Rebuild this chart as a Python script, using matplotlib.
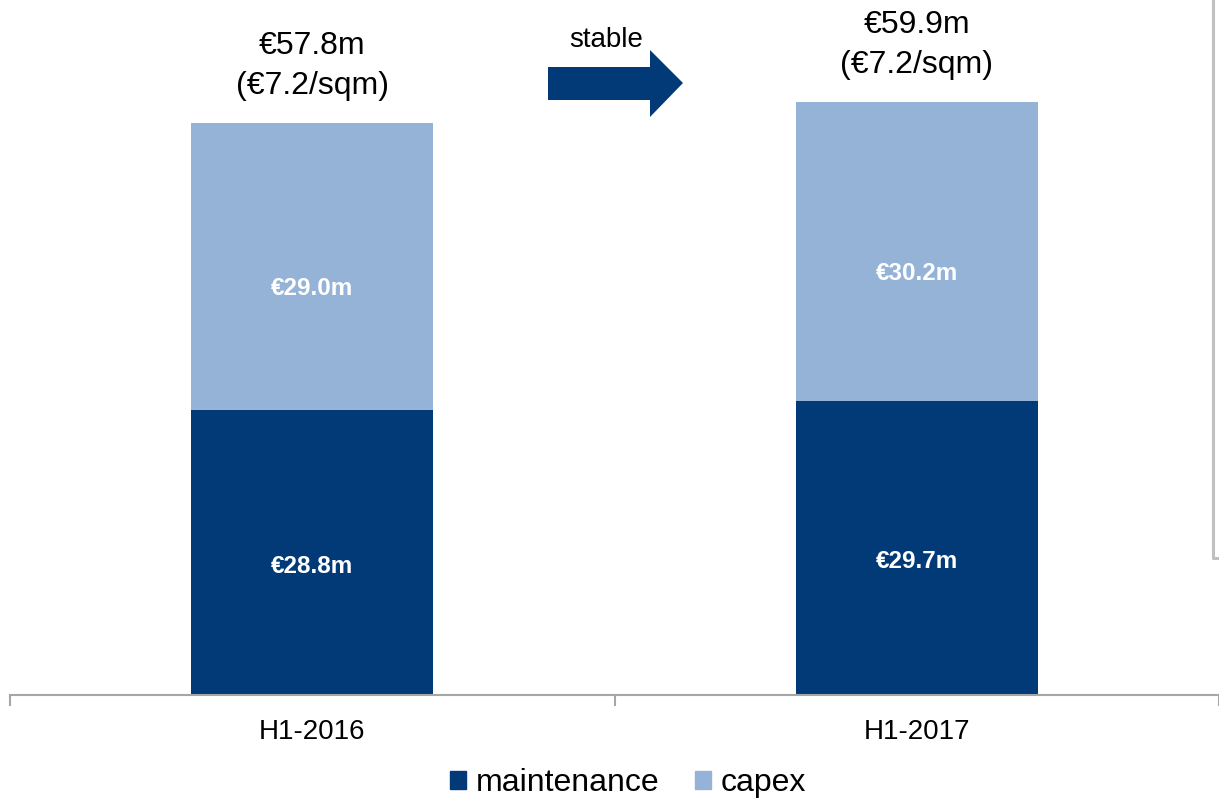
import matplotlib
matplotlib.use('Agg')
import matplotlib.pyplot as plt
from matplotlib.patches import Polygon, Patch
from matplotlib.lines import Line2D

plt.rcParams['font.family'] = ['Liberation Sans', 'DejaVu Sans']

# 数据
periods = ['H1-2016', 'H1-2017']
maintenance = [28.8, 29.7]
capex = [29.0, 30.2]
totals = ['€57.8m', '€59.9m']
per_sqm = ['(€7.2/sqm)', '(€7.2/sqm)']

dark = '#023A78'
light = '#95B3D7'
grey = '#A6A6A6'

W, H = 1219, 800
fig = plt.figure(figsize=(W / 100, H / 100), dpi=100)
ax = fig.add_axes([10 / W, (H - 695) / H, 1209 / W, 695 / H])

x = list(range(len(periods)))
ax.bar(x, maintenance, width=0.4, color=dark, label='maintenance')
ax.bar(x, capex, width=0.4, bottom=maintenance, color=light, label='capex')

ax.set_xlim(-0.5, 1.479)
ax.set_ylim(0, 70.2)

# 柱内标签
for i in x:
    ax.annotate(f'€{maintenance[i]:.1f}m', (i, maintenance[i] / 2), xytext=(0, -14),
                textcoords='offset pixels', ha='center', va='center',
                color='white', fontsize=17.5, fontweight='bold')
    ax.annotate(f'€{capex[i]:.1f}m', (i, maintenance[i] + capex[i] / 2), xytext=(0, -22),
                textcoords='offset pixels', ha='center', va='center',
                color='white', fontsize=17.5, fontweight='bold')
    top = maintenance[i] + capex[i]
    ax.annotate(per_sqm[i], (i, top), xytext=(0, 37), textcoords='offset pixels',
                ha='center', va='center', fontsize=23, annotation_clip=False)
    ax.annotate(totals[i], (i, top), xytext=(0, 77), textcoords='offset pixels',
                ha='center', va='center', fontsize=23, annotation_clip=False)

# 坐标轴样式
for s in ['top', 'right', 'left']:
    ax.spines[s].set_visible(False)
ax.spines['bottom'].set_color(grey)
ax.spines['bottom'].set_linewidth(1.5)
ax.set_yticks([])
ax.set_xticks(x)
ax.set_xticklabels(periods, fontsize=20)
ax.tick_params(axis='x', which='major', length=0, pad=17)
ax.set_xticks([-0.5, 0.5, 1.5], minor=True)
ax.tick_params(axis='x', which='minor', length=8, width=1.5, color=grey, direction='out')

# "stable" 箭头
pts = [(548, 67), (650, 67), (650, 50), (683, 83), (650, 117), (650, 100), (548, 100)]
arrow = Polygon([(px / W, 1 - py / H) for px, py in pts], closed=True,
                facecolor=dark, edgecolor='none', transform=fig.transFigure)
fig.patches.append(arrow)
fig.text(606 / W, 1 - 40 / H, 'stable', ha='center', va='center', fontsize=20)

# 右侧竖线
fig.lines.append(Line2D([1213 / W, 1213 / W, 1219 / W], [1, 1 - 558 / H, 1 - 558 / H],
                        color='#C0C0C0', lw=2.2, transform=fig.transFigure))

# 图例
handles = [Patch(color=dark, label='maintenance'), Patch(color=light, label='capex')]
fig.legend(handles=handles, loc='center', bbox_to_anchor=(628 / W, (H - 783) / H),
           ncol=2, frameon=False, fontsize=23, handlelength=0.5, handleheight=0.5,
           handletextpad=0.3, columnspacing=1.1)

fig.savefig('out.png', dpi=100)
